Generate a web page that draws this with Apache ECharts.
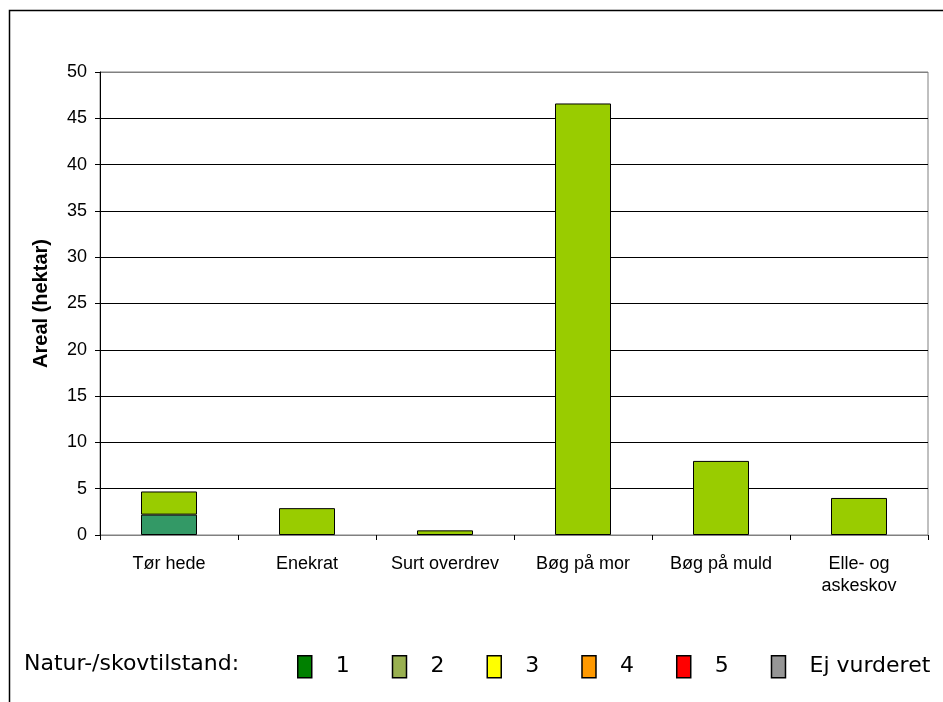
<!DOCTYPE html>
<html>
<head>
<meta charset="utf-8">
<script src="https://cdn.jsdelivr.net/npm/echarts@6/dist/echarts.min.js"></script>
<style>
html,body{margin:0;padding:0;background:#fff;}
#chart{width:943px;height:702px;}
</style>
</head>
<body>
<div id="chart"></div>
<script>
var categories = ['Tør hede', 'Enekrat', 'Surt overdrev', 'Bøg på mor', 'Bøg på muld', 'Elle- og\naskeskov'];
var lowerValues = [2.2, null, null, null, null, null];
var upperValues = [2.5, 2.9, 0.5, 46.6, 8.0, 4.0];
var yTicks = [0, 5, 10, 15, 20, 25, 30, 35, 40, 45, 50];
var legendNames = ['1', '2', '3', '4', '5', 'Ej vurderet'];
var legendColors = ['#008000', '#99B050', '#FFFF00', '#FF9900', '#FF0000', '#969696'];
var legendTitle = 'Natur-/skovtilstand:';

var chart = echarts.init(document.getElementById('chart'));

var gridColors = yTicks.map(function (v, i) {
  return (i === 0 || i === yTicks.length - 1) ? '#808080' : '#000000';
});

var series = [
  {
    name: 'lower', type: 'bar', stack: 'total', barWidth: 56,
    data: lowerValues,
    itemStyle: { color: '#339966', borderColor: '#000', borderWidth: 1 },
    silent: true
  },
  {
    name: 'upper', type: 'bar', stack: 'total', barWidth: 56,
    data: upperValues,
    itemStyle: { color: '#99CC00', borderColor: '#000', borderWidth: 1 },
    silent: true
  }
];
legendNames.forEach(function (n, i) {
  series.push({
    name: n, type: 'bar', stack: 'total', barWidth: 56, data: [],
    itemStyle: { color: legendColors[i], borderColor: '#000', borderWidth: 1.5 }
  });
});

chart.setOption({
  animation: false,
  backgroundColor: '#fff',
  grid: { left: 100, right: 15, top: 72, bottom: 167, show: true, borderColor: '#808080', borderWidth: 1 },
  xAxis: {
    type: 'category',
    data: categories,
    axisLine: { lineStyle: { color: '#808080', width: 1 } },
    axisTick: { show: true, length: 5, lineStyle: { color: '#000' } },
    axisLabel: { color: '#000', fontFamily: 'Liberation Sans, Arial', fontSize: 18, margin: 18, lineHeight: 22, interval: 0, hideOverlap: false }
  },
  yAxis: {
    type: 'value',
    min: 0, max: 50, interval: 5,
    name: 'Areal (hektar)',
    nameLocation: 'middle',
    nameGap: 49,
    nameRotate: 90,
    nameTextStyle: { color: '#000', fontFamily: 'Liberation Sans, Arial', fontSize: 20, fontWeight: 'bold' },
    axisLine: { show: true, lineStyle: { color: '#000', width: 1 } },
    axisTick: { show: true, length: 5, lineStyle: { color: '#000' } },
    axisLabel: { color: '#000', fontFamily: 'Liberation Sans, Arial', fontSize: 18, margin: 13 },
    splitLine: { show: true, lineStyle: { color: gridColors, width: 1 } }
  },
  legend: {
    data: legendNames.map(function (n, i) {
      return { name: n, icon: 'rect', itemStyle: { color: legendColors[i], borderColor: '#000', borderWidth: 1.5 } };
    }),
    left: 292,
    top: 650,
    padding: 5,
    itemWidth: 14,
    itemHeight: 22,
    itemGap: 42,
    selectedMode: false,
    textStyle: { color: '#000', fontFamily: 'DejaVu Sans', fontSize: 22, padding: [0, 0, 0, 19] }
  },
  graphic: [
    {
      type: 'rect', silent: true,
      shape: { x: 9.5, y: 10.5, width: 1000, height: 1000 },
      style: { fill: 'none', stroke: '#000', lineWidth: 1.5 }
    },
    {
      type: 'text', left: 24, top: 653,
      style: { text: legendTitle, fill: '#000', font: '22px "DejaVu Sans"' }
    }
  ],
  series: series
});
</script>
</body>
</html>
